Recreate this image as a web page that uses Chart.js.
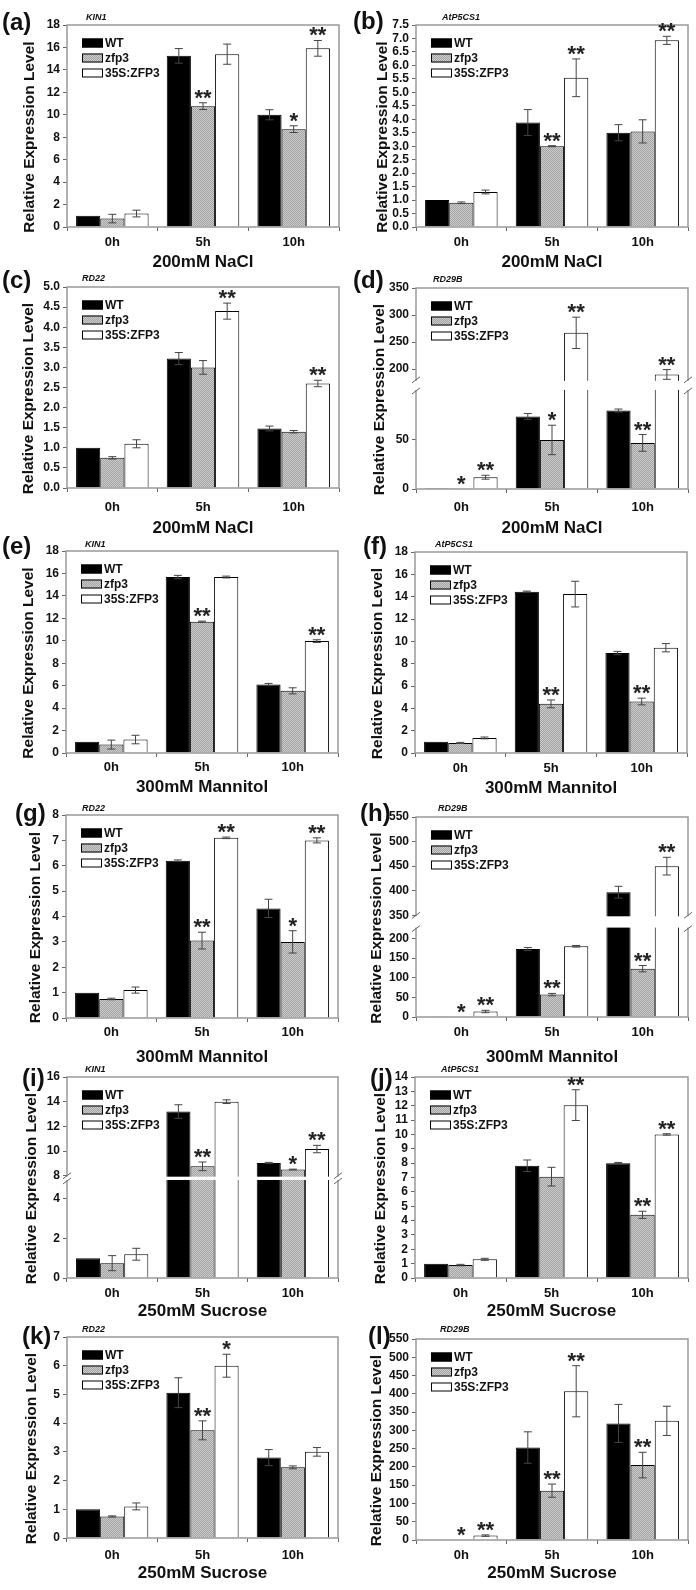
<!DOCTYPE html>
<html>
<head>
<meta charset="utf-8">
<script src="https://cdn.jsdelivr.net/npm/chart.js@4.4.1/dist/chart.umd.min.js"></script>
<style>
  html, body { margin: 0; padding: 0; background: #fff; }
  body { width: 696px; height: 1590px; position: relative; overflow: hidden; }
  canvas { position: absolute; }
</style>
</head>
<body>
<script>
// === Data ===
const categories = ['0h', '5h', '10h'];
const seriesNames = ['WT', 'zfp3', '35S:ZFP3'];

// (a) KIN1, 200mM NaCl
const aValues = [[1.0, 15.25, 10.0], [0.75, 10.77, 8.72], [1.2, 15.4, 15.92]];
const aErrors = [[0, 0.65, 0.45], [0.38, 0.3, 0.3], [0.3, 0.9, 0.7]];
const aStars = [['', '', ''], ['', '**', '*'], ['', '', '**']];
const aTicks = [0, 2, 4, 6, 8, 10, 12, 14, 16, 18];

// (b) AtP5CS1, 200mM NaCl
const bValues = [[1.0, 3.88, 3.5], [0.9, 3.0, 3.55], [1.3, 5.54, 6.93]];
const bErrors = [[0, 0.48, 0.3], [0.03, 0.02, 0.43], [0.07, 0.7, 0.15]];
const bStars = [['', '', ''], ['', '**', ''], ['', '**', '**']];
const bTicks = [0, 0.5, 1, 1.5, 2, 2.5, 3, 3.5, 4, 4.5, 5, 5.5, 6, 6.5, 7, 7.5];

// (c) RD22, 200mM NaCl
const cValues = [[1.0, 3.22, 1.48], [0.75, 3.0, 1.4], [1.1, 4.4, 2.6]];
const cErrors = [[0, 0.15, 0.06], [0.03, 0.17, 0.03], [0.1, 0.2, 0.08]];
const cStars = [['', '', ''], ['', '', ''], ['', '**', '**']];
const cTicks = [0, 0.5, 1, 1.5, 2, 2.5, 3, 3.5, 4, 4.5, 5];

// (d) RD29B, 200mM NaCl (broken axis)
const dValues = [[1, 74, 80], [0.3, 50, 47], [12, 267, 190]];
const dErrors = [[0, 3, 1.5], [0, 15, 8.5], [2, 29, 9]];
const dStars = [['', '', ''], ['*', '*', '**'], ['**', '**', '**']];
const dTicks = [0, 50, 200, 250, 300, 350];

// (e) KIN1, 300mM Mannitol
const eValues = [[1.0, 15.68, 6.1], [0.75, 11.7, 5.54], [1.2, 15.68, 9.97]];
const eErrors = [[0, 0.15, 0.1], [0.4, 0.05, 0.27], [0.38, 0.08, 0.12]];
const eStars = [['', '', ''], ['', '**', ''], ['', '', '**']];
const eTicks = [0, 2, 4, 6, 8, 10, 12, 14, 16, 18];

// (f) AtP5CS1, 300mM Mannitol
const fValues = [[1.0, 14.45, 8.95], [0.9, 4.4, 4.61], [1.35, 14.23, 9.43]];
const fErrors = [[0, 0.05, 0.15], [0.05, 0.35, 0.3], [0.08, 1.15, 0.37]];
const fStars = [['', '', ''], ['', '**', '**'], ['', '', '']];
const fTicks = [0, 2, 4, 6, 8, 10, 12, 14, 16, 18];

// (g) RD22, 300mM Mannitol
const gValues = [[1.0, 6.2, 4.32], [0.75, 3.05, 3.0], [1.1, 7.1, 7.0]];
const gErrors = [[0, 0.03, 0.36], [0.03, 0.33, 0.44], [0.12, 0.03, 0.1]];
const gStars = [['', '', ''], ['', '**', '*'], ['', '**', '**']];
const gTicks = [0, 1, 2, 3, 4, 5, 6, 7, 8];

// (h) RD29B, 300mM Mannitol (broken axis)
const hValues = [[2, 173, 397], [0.5, 57, 123], [14, 180, 450]];
const hErrors = [[0, 4, 12], [0, 3, 8], [3, 2, 18]];
const hStars = [['', '', ''], ['*', '**', '**'], ['**', '', '**']];
const hTicks = [0, 50, 100, 150, 200, 350, 400, 450, 500, 550];

// (i) KIN1, 250mM Sucrose (broken axis)
const iValues = [[1.0, 13.2, 9.03], [0.75, 8.76, 8.5], [1.2, 14.0, 10.16]];
const iErrors = [[0, 0.55, 0.05], [0.38, 0.35, 0.03], [0.3, 0.15, 0.3]];
const iStars = [['', '', ''], ['', '**', '*'], ['', '', '**']];
const iTicks = [0, 2, 4, 8, 10, 12, 14, 16];

// (j) AtP5CS1, 250mM Sucrose
const jValues = [[1.0, 7.82, 8.0], [0.9, 7.06, 4.4], [1.3, 12.04, 10.0]];
const jErrors = [[0, 0.4, 0.05], [0.05, 0.65, 0.25], [0.07, 1.07, 0.05]];
const jStars = [['', '', ''], ['', '', '**'], ['', '**', '**']];
const jTicks = [0, 1, 2, 3, 4, 5, 6, 7, 8, 9, 10, 11, 12, 13, 14];

// (k) RD22, 250mM Sucrose
const kValues = [[1.0, 5.06, 2.8], [0.75, 3.75, 2.46], [1.1, 6.0, 3.0]];
const kErrors = [[0, 0.52, 0.28], [0.02, 0.33, 0.05], [0.12, 0.4, 0.15]];
const kStars = [['', '', ''], ['', '**', ''], ['', '*', '']];
const kTicks = [0, 1, 2, 3, 4, 5, 6, 7];

// (l) RD29B, 250mM Sucrose
const lValues = [[1, 253, 319], [0.5, 135, 205], [12, 407, 326]];
const lErrors = [[0, 43, 52], [0, 18, 35], [2, 70, 40]];
const lStars = [['', '', ''], ['*', '**', '**'], ['**', '**', '']];
const lTicks = [0, 50, 100, 150, 200, 250, 300, 350, 400, 450, 500, 550];

// === Panel layout ===
const FONT = '"Liberation Sans", Arial, sans-serif';
const W = 348, H = 300;
const panels = [
  { id: 'a', gene: 'KIN1', stress: '200mM NaCl', values: aValues, errors: aErrors, stars: aStars, ticks: aTicks, dec: 0,
    left: 0, top: 0, area: [67, 339, 25, 227], catY: 242, titleY: 262, yTitleX: 30, letter: [2, 23], geneAt: [86, 18] },
  { id: 'b', gene: 'AtP5CS1', stress: '200mM NaCl', values: bValues, errors: bErrors, stars: bStars, ticks: bTicks, dec: 1,
    left: 348, top: 0, area: [68, 340, 25, 227], catY: 242, titleY: 262, yTitleX: 35, letter: [5, 22], geneAt: [94, 18] },
  { id: 'c', gene: 'RD22', stress: '200mM NaCl', values: cValues, errors: cErrors, stars: cStars, ticks: cTicks, dec: 1,
    left: 0, top: 265, area: [67, 339, 22, 223], catY: 242, titleY: 263, yTitleX: 29, letter: [2, 16], geneAt: [82, 14] },
  { id: 'd', gene: 'RD29B', stress: '200mM NaCl', values: dValues, errors: dErrors, stars: dStars, ticks: dTicks, dec: 0,
    left: 348, top: 265, area: [68, 340, 23, 224], catY: 242, titleY: 263, yTitleX: 32, letter: [5, 16], geneAt: [85, 15],
    brk: { lowMax: 100, highMin: 180, lowFrac: 0.488, highFrac: 0.457 } },
  { id: 'e', gene: 'KIN1', stress: '300mM Mannitol', values: eValues, errors: eErrors, stars: eStars, ticks: eTicks, dec: 0,
    left: 0, top: 525, area: [66, 338, 26, 228], catY: 242, titleY: 262, yTitleX: 29, letter: [2, 22], geneAt: [85, 20] },
  { id: 'f', gene: 'AtP5CS1', stress: '300mM Mannitol', values: fValues, errors: fErrors, stars: fStars, ticks: fTicks, dec: 0,
    left: 348, top: 525, area: [67, 339, 27, 228], catY: 243, titleY: 263, yTitleX: 30, letter: [15, 22], geneAt: [87, 20] },
  { id: 'g', gene: 'RD22', stress: '300mM Mannitol', values: gValues, errors: gErrors, stars: gStars, ticks: gTicks, dec: 0,
    left: 0, top: 785, area: [66, 338, 30, 233], catY: 247, titleY: 272, yTitleX: 36, letter: [15, 29], geneAt: [82, 24] },
  { id: 'h', gene: 'RD29B', stress: '300mM Mannitol', values: hValues, errors: hErrors, stars: hStars, ticks: hTicks, dec: 0,
    left: 348, top: 785, area: [68, 340, 32, 232], catY: 247, titleY: 272, yTitleX: 29, letter: [12, 29], geneAt: [90, 24],
    brk: { lowMax: 225, highMin: 350, lowFrac: 0.442, highFrac: 0.4915 } },
  { id: 'i', gene: 'KIN1', stress: '250mM Sucrose', values: iValues, errors: iErrors, stars: iStars, ticks: iTicks, dec: 0,
    left: 0, top: 1045, area: [67, 338, 32, 233], catY: 248, titleY: 266, yTitleX: 32, letter: [22, 34], geneAt: [85, 25],
    brk: { lowMax: 4.9, highMin: 8, lowFrac: 0.4827, highFrac: 0.491 } },
  { id: 'j', gene: 'AtP5CS1', stress: '250mM Sucrose', values: jValues, errors: jErrors, stars: jStars, ticks: jTicks, dec: 0,
    left: 348, top: 1045, area: [67, 340, 32, 233], catY: 248, titleY: 266, yTitleX: 33, letter: [22, 34], geneAt: [93, 25] },
  { id: 'k', gene: 'RD22', stress: '250mM Sucrose', values: kValues, errors: kErrors, stars: kStars, ticks: kTicks, dec: 0,
    left: 0, top: 1315, area: [67, 338, 22, 223], catY: 240, titleY: 258, yTitleX: 32, letter: [22, 22], geneAt: [82, 15] },
  { id: 'l', gene: 'RD29B', stress: '250mM Sucrose', values: lValues, errors: lErrors, stars: lStars, ticks: lTicks, dec: 0,
    left: 348, top: 1315, area: [68, 340, 24, 225], catY: 240, titleY: 258, yTitleX: 29, letter: [20, 22], geneAt: [92, 15] }
];

// === Broken y scale (piecewise linear) ===
class BrokenScale extends Chart.LinearScale {
  getPixelForValue(value) {
    const b = this.options.brk;
    let dec;
    if (value <= b.lowMax) dec = (value - this.min) / (b.lowMax - this.min) * b.lowFrac;
    else if (value >= b.highMin) dec = 1 - (this.max - value) / (this.max - b.highMin) * b.highFrac;
    else dec = b.lowFrac + (value - b.lowMax) / (b.highMin - b.lowMax) * (1 - b.lowFrac - b.highFrac);
    return this.getPixelForDecimal(dec);
  }
  getValueForPixel(pixel) {
    const b = this.options.brk;
    const dec = this.getDecimalForPixel(pixel);
    if (dec <= b.lowFrac) return this.min + dec / b.lowFrac * (b.lowMax - this.min);
    if (dec >= 1 - b.highFrac) return this.max - (1 - dec) / b.highFrac * (this.max - b.highMin);
    return b.lowMax + (dec - b.lowFrac) / (1 - b.lowFrac - b.highFrac) * (b.highMin - b.lowMax);
  }
}
BrokenScale.id = 'broken';
Chart.register(BrokenScale);

// === Fill pattern for zfp3 (stipple) ===
function dotPattern(ctx) {
  const c = document.createElement('canvas');
  c.width = 2; c.height = 2;
  const g = c.getContext('2d');
  g.fillStyle = '#cdcdcd'; g.fillRect(0, 0, 2, 2);
  g.fillStyle = '#a2a2a2'; g.fillRect(0, 0, 1, 1); g.fillRect(1, 1, 1, 1);
  return ctx.createPattern(c, 'repeat');
}

// === Decoration plugin: frame, break, error bars, stars, legend, labels ===
function decoPlugin(p) {
  return {
    id: 'deco' + p.id,
    afterDatasetsDraw(chart) {
      const ctx = chart.ctx, a = chart.chartArea, ys = chart.scales.y;
      ctx.save();
      // frame
      ctx.strokeStyle = '#999'; ctx.lineWidth = 1.5;
      ctx.strokeRect(a.left, a.top, a.right - a.left, a.bottom - a.top);

      // error bars
      ctx.strokeStyle = '#444'; ctx.lineWidth = 1;
      p.values.forEach((vals, i) => {
        const meta = chart.getDatasetMeta(i);
        vals.forEach((v, j) => {
          const e = p.errors[i][j];
          if (!e) return;
          const x = meta.data[j].x;
          const yt = ys.getPixelForValue(v + e), yb = ys.getPixelForValue(Math.max(0, v - e));
          ctx.beginPath();
          ctx.moveTo(x, yt); ctx.lineTo(x, yb);
          ctx.moveTo(x - 4, yt); ctx.lineTo(x + 4, yt);
          ctx.moveTo(x - 4, yb); ctx.lineTo(x + 4, yb);
          ctx.stroke();
        });
      });

      // axis break
      if (p.brk) {
        const yLow = ys.getPixelForValue(p.brk.lowMax), yHigh = ys.getPixelForValue(p.brk.highMin);
        ctx.fillStyle = '#fff';
        ctx.fillRect(a.left - 1, yHigh + 1, a.right - a.left + 2, yLow - yHigh - 2);
        ctx.strokeStyle = '#666'; ctx.lineWidth = 1;
        [a.left, a.right].forEach(x0 => {
          [yHigh, yLow].forEach(y => {
            ctx.beginPath(); ctx.moveTo(x0 - 4, y + 3); ctx.lineTo(x0 + 4, y - 3); ctx.stroke();
          });
        });
      }

      // significance stars
      ctx.fillStyle = '#222'; ctx.font = 'bold 22px ' + FONT;
      ctx.textAlign = 'center'; ctx.textBaseline = 'alphabetic';
      p.values.forEach((vals, i) => {
        const meta = chart.getDatasetMeta(i);
        vals.forEach((v, j) => {
          const s = p.stars[i][j];
          if (!s) return;
          const top = ys.getPixelForValue(v + p.errors[i][j]);
          ctx.fillText(s, meta.data[j].x, top + 2);
        });
      });

      // legend
      const lx = a.left + 15, ly = a.top + 18;
      ctx.textAlign = 'left'; ctx.textBaseline = 'middle';
      ctx.font = 'bold 12px ' + FONT;
      seriesNames.forEach((name, i) => {
        const y = ly + i * 15;
        ctx.fillStyle = chart.data.datasets[i].backgroundColor;
        ctx.fillRect(lx, y - 4.5, 21, 9);
        ctx.strokeStyle = '#000'; ctx.lineWidth = 1;
        ctx.strokeRect(lx + 0.5, y - 4, 20, 8);
        ctx.fillStyle = '#111';
        ctx.fillText(name, lx + 23, y + 0.5);
      });

      // y axis title
      ctx.save();
      ctx.translate(p.yTitleX, (a.top + a.bottom) / 2 + 11);
      ctx.rotate(-Math.PI / 2);
      ctx.textAlign = 'center'; ctx.textBaseline = 'middle';
      ctx.font = 'bold 15.5px ' + FONT;
      ctx.fillStyle = '#111';
      ctx.fillText('Relative Expression Level', 0, 0);
      ctx.restore();

      // panel letter and gene name
      ctx.fillStyle = '#111'; ctx.textAlign = 'left'; ctx.textBaseline = 'middle';
      ctx.font = 'bold 24px ' + FONT;
      ctx.fillText('(' + p.id + ')', p.letter[0], p.letter[1]);
      ctx.font = 'italic bold 9px ' + FONT;
      ctx.fillText(p.gene, p.geneAt[0], p.geneAt[1]);
      ctx.restore();
    }
  };
}

// === Build each panel ===
panels.forEach(p => {
  const canvas = document.createElement('canvas');
  canvas.width = W; canvas.height = H;
  canvas.style.left = p.left + 'px'; canvas.style.top = p.top + 'px';
  document.body.appendChild(canvas);
  const ctx = canvas.getContext('2d');
  const [L, R, T, B] = p.area;
  const fills = ['#000', dotPattern(ctx), '#fff'];

  new Chart(ctx, {
    type: 'bar',
    data: {
      labels: categories,
      datasets: seriesNames.map((name, i) => ({
        label: name,
        data: p.values[i],
        backgroundColor: fills[i],
        borderColor: '#000',
        borderWidth: 1,
        barPercentage: 1,
        categoryPercentage: 0.8
      }))
    },
    options: {
      responsive: false,
      animation: false,
      devicePixelRatio: 1,
      events: [],
      layout: { padding: { top: T, right: W - R, left: 0, bottom: 0 } },
      plugins: { legend: { display: false }, tooltip: { enabled: false }, title: { display: false } },
      scales: {
        x: {
          grid: { drawOnChartArea: false, tickLength: 4, offset: true, color: '#666' },
          border: { display: false },
          ticks: { font: { family: FONT, size: 13, weight: 'bold' }, color: '#111', padding: p.catY - B - 11 },
          title: { display: true, text: p.stress, color: '#111', font: { family: FONT, size: 17, weight: 'bold' },
                   padding: { top: 0, bottom: H - p.titleY - 10.2 } },
          afterFit: s => { s.height = H - B; }
        },
        y: {
          type: p.brk ? 'broken' : 'linear',
          brk: p.brk,
          min: p.ticks[0],
          max: p.ticks[p.ticks.length - 1],
          afterBuildTicks: s => { s.ticks = p.ticks.map(v => ({ value: v })); },
          grid: { drawOnChartArea: false, tickLength: 4, color: '#666' },
          border: { display: false },
          ticks: { autoSkip: false, padding: 3, color: '#111', font: { family: FONT, size: 12, weight: 'bold' },
                   callback: v => Number(v).toFixed(p.dec) },
          title: { display: false },
          afterFit: s => { s.width = L; }
        }
      }
    },
    plugins: [decoPlugin(p)]
  });
});
</script>
</body>
</html>
